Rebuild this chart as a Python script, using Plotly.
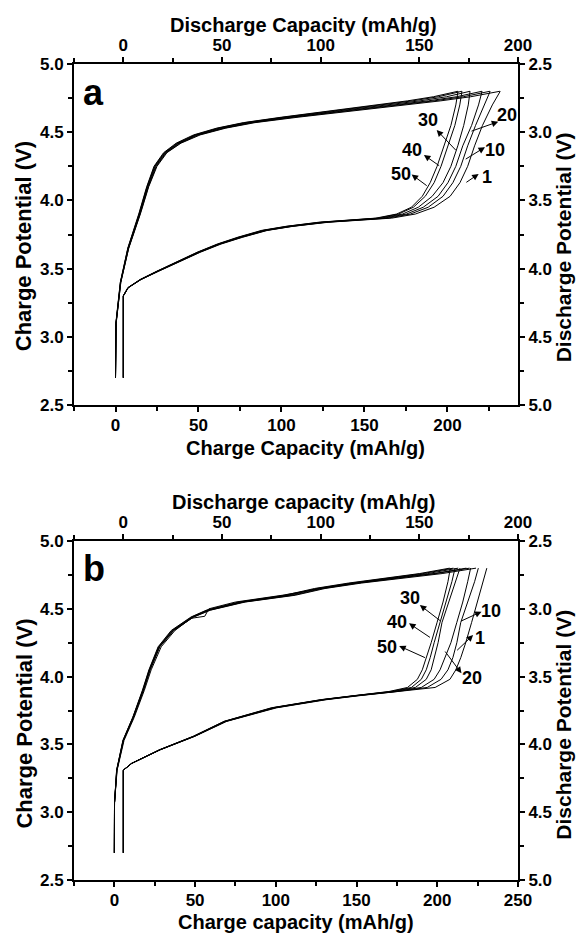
import plotly.graph_objects as go

CYCLES = ["1", "10", "20", "30", "40", "50"]

# ---------------- Panel a ----------------
# charge: potential (V) grid and charge capacity (mAh/g) per cycle
A_CH_V = [2.70, 3.10, 3.40, 3.65, 3.90, 4.10, 4.25, 4.35, 4.42, 4.48, 4.53, 4.57, 4.61, 4.65, 4.69, 4.73, 4.76, 4.80]
A_CH_CAP = [
    [0, 0.4, 3.2, 8.0, 15.0, 20.0, 25.0, 31.0, 39.5, 51.0, 66.5, 84.0, 110.0, 139.0, 168.0, 196.0, 214.0, 231.6],
    [0, 0.4, 3.2, 7.9, 14.8, 19.8, 24.6, 30.6, 39.0, 50.0, 65.5, 82.5, 107.5, 136.0, 164.5, 192.0, 209.5, 225.6],
    [0, 0.3, 3.1, 7.8, 14.6, 19.5, 24.2, 30.2, 38.3, 49.3, 64.5, 81.0, 105.5, 133.5, 161.5, 188.5, 205.5, 220.8],
    [0, 0.3, 3.0, 7.6, 14.4, 19.2, 23.8, 29.8, 37.8, 48.5, 63.0, 79.5, 103.5, 130.5, 157.5, 183.5, 199.5, 213.6],
    [0, 0.3, 3.0, 7.5, 14.2, 19.0, 23.5, 29.4, 37.2, 47.8, 62.0, 78.0, 101.5, 128.0, 154.5, 179.0, 194.5, 208.7],
    [0, 0.2, 2.9, 7.4, 14.0, 18.8, 23.2, 29.0, 36.6, 47.0, 61.0, 77.0, 100.0, 126.0, 152.0, 176.0, 191.5, 206.3],
]
# discharge: potential (V) grid and discharge capacity (mAh/g) per cycle
A_DIS_V = [4.80, 4.20, 4.14, 4.08, 4.02, 3.95, 3.88, 3.82, 3.77, 3.72, 3.69, 3.66, 3.63, 3.60, 3.55, 3.47, 3.37, 3.25, 3.10, 2.95, 2.80, 2.70]
A_DIS_CAP = [
    [0, 0, 2.5, 9.0, 17.8, 28.0, 39.0, 49.5, 60.5, 73.0, 86.0, 104.0, 136.0, 148.0, 157.5, 165.6, 170.6, 174.5, 178.0, 182.0, 187.0, 191.0],
    [0, 0, 2.5, 9.0, 17.6, 27.8, 38.7, 49.0, 60.0, 72.5, 85.5, 103.0, 134.0, 145.5, 154.5, 162.0, 167.0, 171.0, 174.5, 178.5, 183.0, 185.9],
    [0, 0, 2.4, 8.8, 17.4, 27.5, 38.4, 48.7, 59.5, 72.0, 85.0, 102.0, 132.0, 143.5, 152.0, 159.5, 164.5, 168.5, 172.0, 176.5, 180.0, 181.8],
    [0, 0, 2.4, 8.7, 17.2, 27.2, 38.0, 48.3, 59.0, 71.3, 84.0, 101.0, 130.5, 141.5, 149.5, 156.5, 162.0, 166.0, 169.5, 172.5, 174.8, 175.7],
    [0, 0, 2.3, 8.6, 17.0, 27.0, 37.7, 48.0, 58.5, 70.7, 83.0, 100.0, 129.0, 139.5, 147.0, 153.0, 157.5, 161.0, 164.5, 168.0, 170.5, 171.6],
    [0, 0, 2.3, 8.5, 16.8, 26.8, 37.4, 47.6, 58.0, 70.0, 82.5, 99.0, 128.0, 138.5, 146.0, 151.5, 155.5, 159.0, 162.5, 166.0, 168.5, 169.6],
]

# ---------------- Panel b ----------------
B_CH_V = [2.70, 3.07, 3.31, 3.53, 3.70, 3.90, 4.05, 4.22, 4.34, 4.44, 4.49, 4.55, 4.60, 4.65, 4.69, 4.73, 4.76, 4.80]
B_CH_CAP = [
    [0, 0.1, 1.6, 5.8, 12.0, 18.3, 22.5, 28.5, 37.0, 49.5, 60.0, 82.0, 114.0, 133.0, 156.0, 184.0, 208.0, 230.4],
    [0, 0.1, 1.6, 5.7, 11.9, 18.1, 22.2, 28.2, 36.8, 49.2, 59.5, 81.0, 112.0, 130.5, 153.0, 180.0, 203.0, 224.0],
    [0, 0.1, 1.5, 5.6, 11.8, 18.0, 22.0, 28.0, 36.5, 49.0, 59.0, 80.0, 110.5, 129.0, 151.0, 177.0, 199.0, 220.0],
    [0, 0.1, 1.5, 5.5, 11.6, 17.8, 21.8, 27.7, 36.0, 48.5, 58.0, 79.0, 108.5, 127.0, 148.5, 173.0, 194.0, 213.0],
    [0, 0.1, 1.4, 5.4, 11.5, 17.6, 21.6, 27.4, 35.6, 48.0, 57.5, 78.0, 107.0, 125.5, 147.0, 171.0, 191.0, 210.0],
    [0, 0.1, 1.4, 5.3, 11.4, 17.4, 21.4, 27.1, 35.2, 47.5, 57.0, 77.0, 105.5, 124.0, 145.0, 169.0, 189.0, 207.7],
]
# one charge curve in panel b shows a small step near 4.45 V
B_KINK_V = [2.70, 3.07, 3.31, 3.53, 3.70, 3.90, 4.05, 4.22, 4.34, 4.43, 4.445, 4.50, 4.55, 4.60, 4.65, 4.69, 4.73, 4.76, 4.80]
B_KINK_CAP = [0, 0.1, 1.7, 6.0, 12.3, 18.6, 22.8, 29.0, 37.5, 47.5, 56.0, 58.5, 75.0, 104.0, 128.0, 150.0, 176.0, 198.0, 218.0]

B_DIS_V = [4.80, 4.19, 4.14, 4.04, 3.94, 3.83, 3.73, 3.67, 3.64, 3.61, 3.58, 3.52, 3.45, 3.36, 3.25, 3.10, 2.95, 2.80, 2.70]
B_DIS_CAP = [
    [0, 0, 4.3, 18.7, 36.3, 52.4, 77.7, 103.0, 120.0, 140.0, 158.0, 165.5, 168.5, 171.0, 173.5, 176.5, 179.5, 182.5, 184.2],
    [0, 0, 4.3, 18.6, 36.1, 52.0, 77.0, 102.0, 119.0, 138.5, 154.0, 161.0, 164.5, 167.0, 169.0, 171.0, 174.5, 178.0, 179.9],
    [0, 0, 4.2, 18.5, 36.0, 51.8, 76.5, 101.5, 118.5, 137.5, 151.0, 157.5, 160.5, 163.0, 166.0, 169.0, 172.0, 174.5, 176.0],
    [0, 0, 4.2, 18.4, 35.8, 51.5, 76.0, 101.0, 118.0, 136.5, 148.0, 153.5, 156.0, 157.5, 159.5, 161.5, 165.0, 168.5, 170.6],
    [0, 0, 4.2, 18.3, 35.6, 51.2, 75.5, 100.5, 117.5, 135.5, 146.0, 151.0, 153.5, 155.5, 157.5, 160.5, 163.5, 166.5, 168.1],
    [0, 0, 4.1, 18.2, 35.4, 51.0, 75.0, 100.0, 117.0, 134.5, 144.0, 149.0, 151.5, 153.7, 156.0, 159.0, 162.0, 164.5, 165.7],
]

# cycle labels (text) for each panel
A_LABELS = ["30", "40", "50", "20", "10", "1"]
B_LABELS = ["30", "40", "50", "10", "1", "20"]

# axis titles
A_XB_TITLE = "Charge Capacity (mAh/g)"
A_XT_TITLE = "Discharge Capacity (mAh/g)"
B_XB_TITLE = "Charge capacity (mAh/g)"
B_XT_TITLE = "Discharge capacity (mAh/g)"
YL_TITLE = "Charge Potential (V)"
YR_TITLE = "Discharge Potential (V)"

FONT = "Liberation Sans, Arial, Helvetica, sans-serif"
LINE = dict(color="black", width=1)

fig = go.Figure()

for i, c in enumerate(CYCLES):
    fig.add_trace(go.Scatter(x=A_CH_CAP[i], y=A_CH_V, mode="lines", line=LINE,
                             xaxis="x", yaxis="y", name=f"a charge {c}", showlegend=False))
    fig.add_trace(go.Scatter(x=A_DIS_CAP[i], y=A_DIS_V, mode="lines", line=LINE,
                             xaxis="x2", yaxis="y2", name=f"a discharge {c}", showlegend=False))
    if i == 0:
        fig.add_trace(go.Scatter(x=B_KINK_CAP, y=B_KINK_V, mode="lines", line=LINE,
                                 xaxis="x3", yaxis="y3", name=f"b charge {c}", showlegend=False))
    else:
        fig.add_trace(go.Scatter(x=B_CH_CAP[i], y=B_CH_V, mode="lines", line=LINE,
                                 xaxis="x3", yaxis="y3", name=f"b charge {c}", showlegend=False))
    fig.add_trace(go.Scatter(x=B_DIS_CAP[i], y=B_DIS_V, mode="lines", line=LINE,
                             xaxis="x4", yaxis="y4", name=f"b discharge {c}", showlegend=False))

tickfont = dict(family=FONT, size=17, color="black", weight="bold")


def xax(rng, side, anchor, overlay=None, dtick=50):
    d = dict(range=rng, side=side, anchor=anchor, showline=True, linecolor="black", linewidth=2,
             ticks="outside", ticklen=5, tickwidth=1.5, tickcolor="black", dtick=dtick, tick0=0,
             minor=dict(dtick=dtick / 2, tick0=0, ticks="outside", ticklen=4, tickwidth=1.5, tickcolor="black"),
             showgrid=False, zeroline=False, tickfont=tickfont, automargin=False,
             ticklabelstandoff=-1, mirror=False, fixedrange=True)
    if overlay:
        d["overlaying"] = overlay
    return d


def yax(rng, side, anchor, domain=None, overlay=None):
    d = dict(range=rng, side=side, anchor=anchor, showline=True, linecolor="black", linewidth=2,
             ticks="outside", ticklen=5, tickwidth=1.5, tickcolor="black", dtick=0.5, tick0=0,
             tickformat=".1f",
             minor=dict(dtick=0.25, tick0=0, ticks="outside", ticklen=4, tickwidth=1.5, tickcolor="black"),
             showgrid=False, zeroline=False, tickfont=tickfont, automargin=False,
             mirror=False, fixedrange=True)
    if domain:
        d["domain"] = domain
    if overlay:
        d["overlaying"] = overlay
    return d


DOM_A = [0.5821, 1.0]
DOM_B = [0.0, 0.4154]

annotations = []


def label(text, xref, yref, x, y, size=18):
    annotations.append(dict(text=text, x=x, y=y, xref=xref, yref=yref, showarrow=False,
                            font=dict(family=FONT, size=size, color="black", weight="bold"),
                            xanchor="center", yanchor="middle"))


def arrow(xref, yref, hx, hy, tx, ty):
    annotations.append(dict(text="", x=hx, y=hy, ax=tx, ay=ty, xref=xref, yref=yref,
                            axref=xref, ayref=yref, showarrow=True, arrowhead=2, arrowsize=1.3,
                            arrowwidth=1, arrowcolor="black", standoff=0, startstandoff=0))


def title(text, x, y, size, angle=0):
    annotations.append(dict(text=text, x=x, y=y, xref="paper", yref="paper", showarrow=False,
                            textangle=angle, xanchor="center", yanchor="middle", borderpad=0,
                            font=dict(family=FONT, size=size, color="black", weight="bold")))


# panel a labels: (label x, label y, head x, head y, tail x, tail y) in bottom/left axis units
A_POS = [
    (188.4, 4.589, 193.5, 4.516, 205.9, 4.357),
    (178.4, 4.370, 185.8, 4.333, 195.9, 4.247),
    (171.8, 4.194, 178.4, 4.190, 188.4, 4.100),
    (235.7, 4.626, 230.6, 4.577, 213.6, 4.504),
    (228.6, 4.370, 222.6, 4.390, 210.1, 4.296),
    (223.6, 4.174, 218.8, 4.194, 210.5, 4.125),
]
for t, p in zip(A_LABELS, A_POS):
    label(t, "x", "y", p[0], p[1])
    arrow("x", "y", p[2], p[3], p[4], p[5])

B_POS = [
    (183.0, 4.577, 189.2, 4.528, 202.6, 4.405),
    (174.8, 4.405, 182.5, 4.393, 196.4, 4.282),
    (168.6, 4.216, 176.4, 4.226, 193.3, 4.135),
    (233.5, 4.486, 227.4, 4.479, 213.9, 4.405),
    (226.3, 4.282, 222.2, 4.307, 211.4, 4.184),
    (221.2, 3.987, 215.0, 4.024, 204.2, 4.196),
]
for t, p in zip(B_LABELS, B_POS):
    label(t, "x3", "y3", p[0], p[1])
    arrow("x3", "y3", p[2], p[3], p[4], p[5])

# axis titles (placed as text so they sit where the reference has them)
title(A_XT_TITLE, 0.518, 1.0478, 20)
title(A_XB_TITLE, 0.522, 0.5295, 20)
title(B_XT_TITLE, 0.518, 0.4632, 20)
title(B_XB_TITLE, 0.500, -0.0520, 20)
title(YL_TITLE, -0.112, 0.777, 22, -90)
title(YL_TITLE, -0.112, 0.192, 22, -90)
title(YR_TITLE, 1.103, 0.775, 21, -90)
title(YR_TITLE, 1.103, 0.190, 21, -90)

# panel letters
annotations.append(dict(text="a", x=0.015, y=4.79, xref="paper", yref="y", showarrow=False,
                        xanchor="left", yanchor="middle",
                        font=dict(family=FONT, size=36, color="black", weight="bold")))
annotations.append(dict(text="b", x=0.015, y=4.80, xref="paper", yref="y3", showarrow=False,
                        xanchor="left", yanchor="middle",
                        font=dict(family=FONT, size=36, color="black", weight="bold")))

fig.update_layout(
    width=579, height=935,
    margin=dict(l=74, r=61, t=64, b=55),
    paper_bgcolor="white", plot_bgcolor="white",
    showlegend=False,
    xaxis=xax([-25, 242.5], "bottom", "y"),
    xaxis2=xax([-25, 200], "top", "y", overlay="x"),
    yaxis=yax([2.5, 5.0], "left", "x", domain=DOM_A),
    yaxis2=yax([5.0, 2.5], "right", "x", overlay="y"),
    xaxis3=xax([-25, 250], "bottom", "y3"),
    xaxis4=xax([-25, 200], "top", "y3", overlay="x3"),
    yaxis3=yax([2.5, 5.0], "left", "x3", domain=DOM_B),
    yaxis4=yax([5.0, 2.5], "right", "x3", overlay="y3"),
    annotations=annotations,
)

# remove the page's default body margin so the figure fills the window exactly; hide the modebar
fig.write_html("out.html", config={"displayModeBar": False},
               post_script="document.body.style.margin='0px';")
